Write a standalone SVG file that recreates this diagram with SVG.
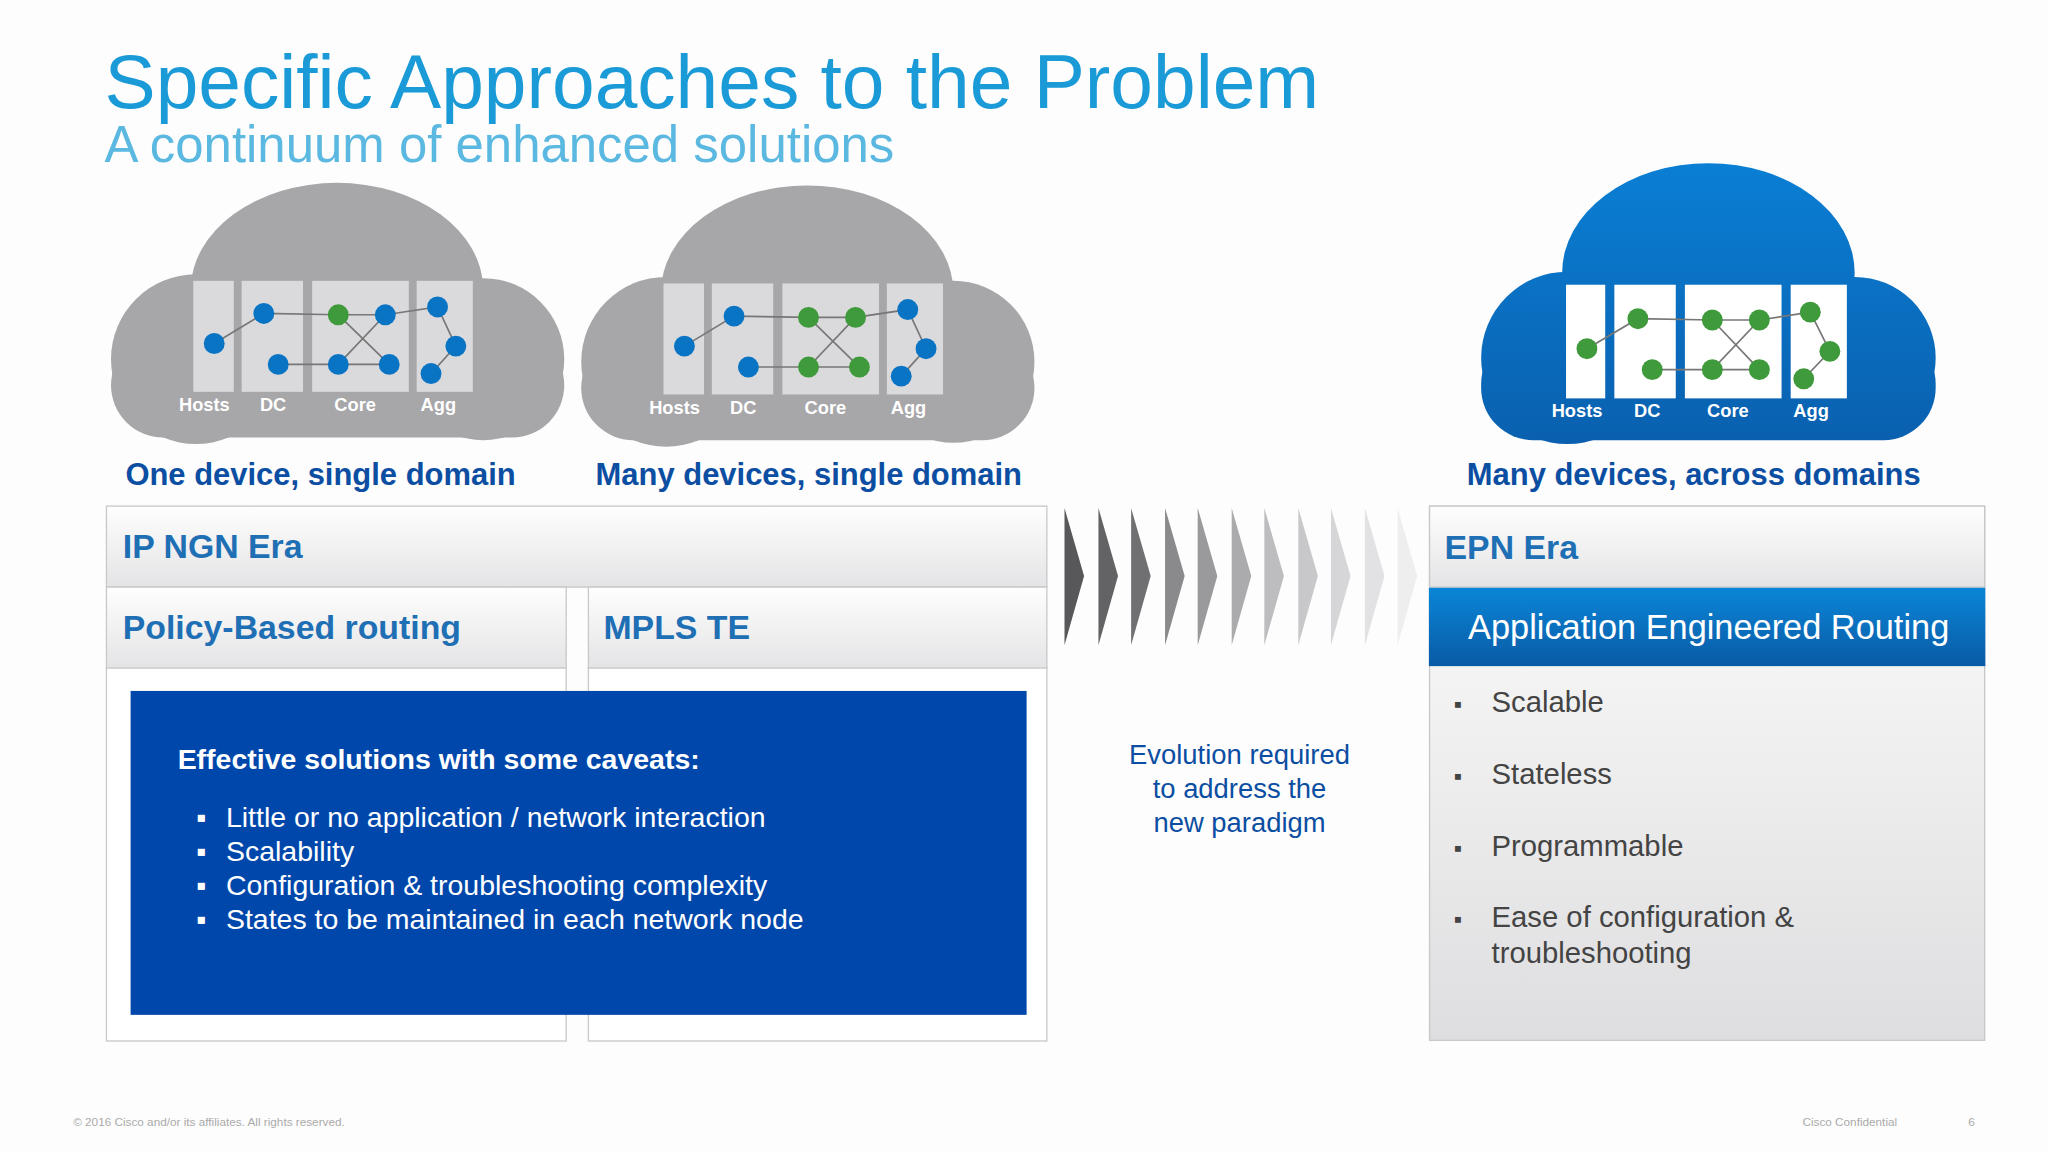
<svg xmlns="http://www.w3.org/2000/svg" width="2048" height="1152" viewBox="0 0 2048 1152">
<defs>
<style>
.t{font-family:"Liberation Sans",Arial,sans-serif}
.cap{font-family:"Liberation Sans",Arial,sans-serif;font-weight:bold;font-size:23.7px;fill:#0b4ea2}
.hdr{font-family:"Liberation Sans",Arial,sans-serif;font-weight:bold;font-size:25.9px;fill:#1f6fb5}
.lbl{font-family:"Liberation Sans",Arial,sans-serif;font-weight:bold;font-size:14px;fill:#fff}
.w{font-family:"Liberation Sans",Arial,sans-serif;font-size:21.8px;fill:#fff}
.r{font-family:"Liberation Sans",Arial,sans-serif;font-size:22.4px;fill:#444}
.ln{stroke:#777;stroke-width:1.3;fill:none}
.b{fill:#0a74c4}.g{fill:#3e9a3a}
</style>
<linearGradient id="hg" x1="0" y1="0" x2="0" y2="1"><stop offset="0" stop-color="#fefefe"/><stop offset="1" stop-color="#e4e4e6"/></linearGradient>
<linearGradient id="bg" x1="0" y1="0" x2="0" y2="1"><stop offset="0" stop-color="#fdfdfd"/><stop offset="1" stop-color="#dedee0"/></linearGradient>
<linearGradient id="ab" x1="0" y1="0" x2="0" y2="1"><stop offset="0" stop-color="#0a86d6"/><stop offset="1" stop-color="#0a5aa6"/></linearGradient>
<linearGradient id="cb" x1="0" x2="0" gradientUnits="userSpaceOnUse" y1="120" y2="340"><stop offset="0" stop-color="#0a7fd4"/><stop offset="1" stop-color="#0a5fae"/></linearGradient>
<g id="cloud">
<ellipse cx="258" cy="222" rx="112" ry="82"/>
<circle cx="150" cy="275" r="65"/>
<circle cx="370" cy="275" r="62"/>
<rect x="85" y="255" width="347" height="80" rx="40"/>
</g>
</defs>
<rect width="2048" height="1152" fill="#fdfdfd"/>
<g transform="scale(1.30612)">
<text class="t" x="80" y="83" font-size="58.5" fill="#1a9ad6" textLength="930" lengthAdjust="spacingAndGlyphs">Specific Approaches to the Problem</text>
<text class="t" x="80" y="124" font-size="39" fill="#5bb8e0">A continuum of enhanced solutions</text>

<g id="cloud1">
<use href="#cloud" fill="#a7a6a9"/>
<g fill="#dadadc"><rect x="148" y="215" width="31" height="85"/><rect x="185" y="215" width="47" height="85"/><rect x="239" y="215" width="74" height="85"/><rect x="319" y="215" width="43" height="85"/></g>
<path class="ln" d="M164 263L202 240L259 241L295 241L335 235L349 265L330 286M213 279L259 279L298 279M259 241L298 279M295 241L259 279"/>
<circle class="b" cx="164" cy="263" r="8"/><circle class="b" cx="202" cy="240" r="8"/><circle class="b" cx="213" cy="279" r="8"/><circle class="g" cx="259" cy="241" r="8"/><circle class="b" cx="295" cy="241" r="8"/><circle class="b" cx="259" cy="279" r="8"/><circle class="b" cx="298" cy="279" r="8"/><circle class="b" cx="335" cy="235" r="8"/><circle class="b" cx="349" cy="265" r="8"/><circle class="b" cx="330" cy="286" r="8"/>
<text class="lbl" x="137" y="315">Hosts</text><text class="lbl" x="199" y="315">DC</text><text class="lbl" x="256" y="315">Core</text><text class="lbl" x="322" y="315">Agg</text>
</g>

<g id="cloud2" transform="translate(360,2)">
<use href="#cloud" fill="#a7a6a9"/>
<g fill="#dadadc"><rect x="148" y="215" width="31" height="85"/><rect x="185" y="215" width="47" height="85"/><rect x="239" y="215" width="74" height="85"/><rect x="319" y="215" width="43" height="85"/></g>
<path class="ln" d="M164 263L202 240L259 241L295 241L335 235L349 265L330 286M213 279L259 279L298 279M259 241L298 279M295 241L259 279"/>
<circle class="b" cx="164" cy="263" r="8"/><circle class="b" cx="202" cy="240" r="8"/><circle class="b" cx="213" cy="279" r="8"/><circle class="g" cx="259" cy="241" r="8"/><circle class="g" cx="295" cy="241" r="8"/><circle class="g" cx="259" cy="279" r="8"/><circle class="g" cx="298" cy="279" r="8"/><circle class="b" cx="335" cy="235" r="8"/><circle class="b" cx="349" cy="265" r="8"/><circle class="b" cx="330" cy="286" r="8"/>
<text class="lbl" x="137" y="315">Hosts</text><text class="lbl" x="199" y="315">DC</text><text class="lbl" x="256" y="315">Core</text><text class="lbl" x="322" y="315">Agg</text>
</g>

<g id="cloud3" transform="translate(1050,4)">
<g fill="url(#cb)">
<ellipse cx="258" cy="205" rx="112" ry="84"/>
<circle cx="150" cy="270" r="66"/>
<circle cx="370" cy="270" r="62"/>
<rect x="84" y="250" width="348" height="83" rx="40"/>
</g>
<g fill="#ffffff"><rect x="149" y="214" width="30" height="87"/><rect x="186" y="214" width="47" height="87"/><rect x="240" y="214" width="74" height="87"/><rect x="321" y="214" width="43" height="87"/></g>
<path class="ln" d="M165 263L204 240L261 241L297 241L336 235L351 265L331 286M215 279L261 279L297 279M261 241L297 279M297 241L261 279"/>
<circle class="g" cx="165" cy="263" r="8"/><circle class="g" cx="204" cy="240" r="8"/><circle class="g" cx="215" cy="279" r="8"/><circle class="g" cx="261" cy="241" r="8"/><circle class="g" cx="297" cy="241" r="8"/><circle class="g" cx="261" cy="279" r="8"/><circle class="g" cx="297" cy="279" r="8"/><circle class="g" cx="336" cy="235" r="8"/><circle class="g" cx="351" cy="265" r="8"/><circle class="g" cx="331" cy="286" r="8"/>
<text class="lbl" x="138" y="315">Hosts</text><text class="lbl" x="201" y="315">DC</text><text class="lbl" x="257" y="315">Core</text><text class="lbl" x="323" y="315">Agg</text>
</g>

<text class="cap" x="96" y="371">One device, single domain</text>
<text class="cap" x="456" y="371">Many devices, single domain</text>
<text class="cap" x="1123" y="371">Many devices, across domains</text>

<g id="left">
<rect x="81.5" y="511" width="352" height="286" fill="#fff" stroke="#c8c8c8"/>
<rect x="450.5" y="511" width="351" height="286" fill="#fff" stroke="#c8c8c8"/>
<rect x="81.5" y="387.5" width="720" height="62" fill="url(#hg)" stroke="#c8c8c8"/>
<text class="hdr" x="94" y="427">IP NGN Era</text>
<rect x="81.5" y="449.5" width="352" height="62" fill="url(#hg)" stroke="#c8c8c8"/>
<text class="hdr" x="94" y="489">Policy-Based routing</text>
<rect x="450.5" y="449.5" width="351" height="62" fill="url(#hg)" stroke="#c8c8c8"/>
<text class="hdr" x="462" y="489">MPLS TE</text>
<rect x="100" y="529" width="686" height="248" fill="#0047ab"/>
<text class="w" x="136" y="589" font-weight="bold" font-size="23">Effective solutions with some caveats:</text>
<g class="w"><text x="150" y="633">▪</text><text x="173" y="633">Little or no application / network interaction</text>
<text x="150" y="659">▪</text><text x="173" y="659">Scalability</text>
<text x="150" y="685">▪</text><text x="173" y="685">Configuration &amp; troubleshooting complexity</text>
<text x="150" y="711">▪</text><text x="173" y="711">States to be maintained in each network node</text></g>
</g>

<g id="chevrons">
<polygon points="815,389 830,441 815,494" fill="#58585a"/>
<polygon points="841,389 856,441 841,494" fill="#636365"/>
<polygon points="866,389 881,441 866,494" fill="#707072"/>
<polygon points="892,389 907,441 892,494" fill="#8a8a8c"/>
<polygon points="917,389 932,441 917,494" fill="#9a9a9c"/>
<polygon points="943,389 958,441 943,494" fill="#ababad"/>
<polygon points="968,389 983,441 968,494" fill="#bdbdbf"/>
<polygon points="994,389 1009,441 994,494" fill="#c8c8ca"/>
<polygon points="1019,389 1034,441 1019,494" fill="#d6d6d8"/>
<polygon points="1045,389 1060,441 1045,494" fill="#e2e2e4"/>
<polygon points="1070,389 1085,441 1070,494" fill="#eeeeef"/>
</g>
<g class="t" font-size="21" fill="#0b4ea2" text-anchor="middle">
<text x="949" y="585">Evolution required</text><text x="949" y="611">to address the</text><text x="949" y="637">new paradigm</text></g>

<g id="right">
<rect x="1094.5" y="387.5" width="425" height="409" fill="url(#bg)" stroke="#c8c8c8"/>
<rect x="1094.5" y="387.5" width="425" height="62" fill="url(#hg)" stroke="#c8c8c8"/>
<text class="hdr" x="1106" y="428">EPN Era</text>
<rect x="1094" y="450" width="426" height="60" fill="url(#ab)"/>
<text class="t" x="1124" y="489" font-size="26.3" fill="#fff">Application Engineered Routing</text>
<g class="r"><text x="1113" y="545" font-size="18">▪</text><text x="1142" y="545">Scalable</text>
<text x="1113" y="600" font-size="18">▪</text><text x="1142" y="600">Stateless</text>
<text x="1113" y="655" font-size="18">▪</text><text x="1142" y="655">Programmable</text>
<text x="1113" y="710" font-size="18">▪</text><text x="1142" y="710">Ease of configuration &amp;</text>
<text x="1142" y="737">troubleshooting</text></g>
</g>

<g class="t" font-size="9" fill="#aaa">
<text x="56" y="862">© 2016 Cisco and/or its affiliates. All rights reserved.</text>
<text x="1380" y="862">Cisco Confidential</text><text x="1507" y="862">6</text></g>
</g>
</svg>
